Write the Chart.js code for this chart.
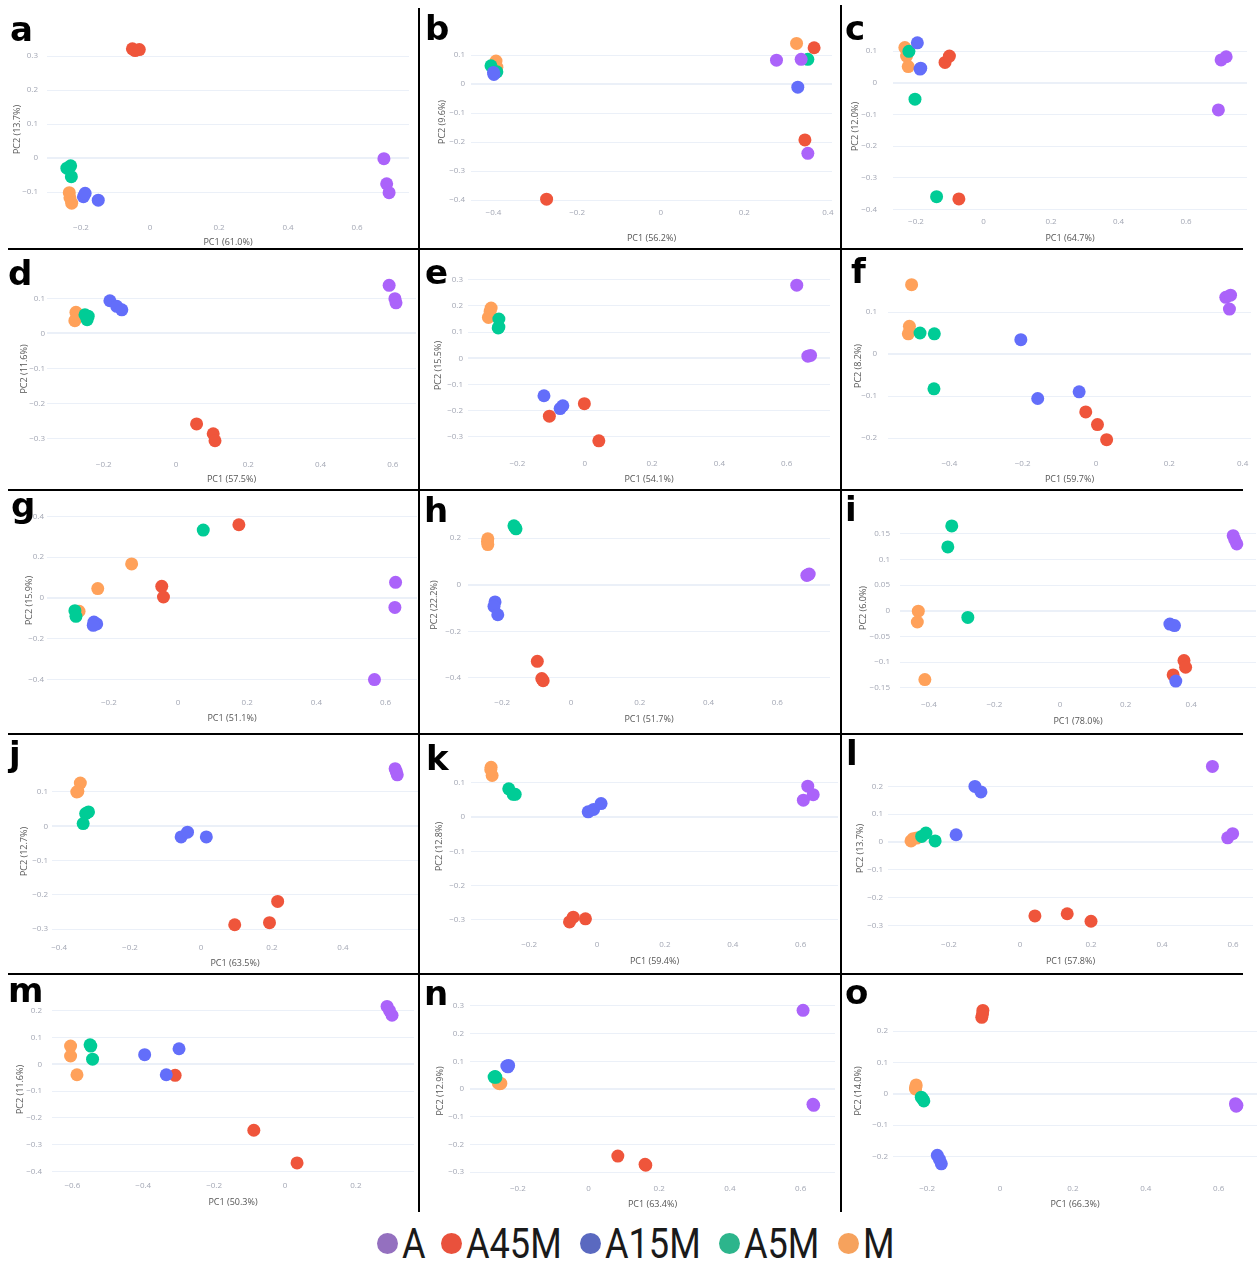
<!DOCTYPE html>
<html>
<head>
<meta charset="utf-8">
<script src="https://cdn.jsdelivr.net/npm/chart.js@4.4.1/dist/chart.umd.min.js"></script>
<style>
  body { margin: 0; background: #fff; }
  #wrap { position: relative; width: 1259px; height: 1262px; overflow: hidden; background: #fff; }
  #wrap canvas { position: absolute; }
  .letter { position: absolute; font: 700 34px "DejaVu Sans"; line-height: 34px; color: #000; z-index: 3; }
  .rule { position: absolute; background: #000; z-index: 4; }
  .ldot { position: absolute; width: 21px; height: 21px; border-radius: 50%; }
  .ltext { position: absolute; font: 400 42px Roboto; line-height: 42px; color: #1a1a1a; transform: scaleX(0.86); transform-origin: left center; white-space: nowrap; }
</style>
</head>
<body>
<div id="wrap"></div>
<script>
// --- Data ---
const groups = ['A', 'A15M', 'A45M', 'A5M', 'M'];
const panelLetters = ['a', 'b', 'c', 'd', 'e', 'f', 'g', 'h', 'i', 'j', 'k', 'l', 'm', 'n', 'o'];

const pc1Titles = ['PC1 (61.0%)', 'PC1 (56.2%)', 'PC1 (64.7%)', 'PC1 (57.5%)', 'PC1 (54.1%)', 'PC1 (59.7%)',
  'PC1 (51.1%)', 'PC1 (51.7%)', 'PC1 (78.0%)', 'PC1 (63.5%)', 'PC1 (59.4%)', 'PC1 (57.8%)',
  'PC1 (50.3%)', 'PC1 (63.4%)', 'PC1 (66.3%)'];
const pc2Titles = ['PC2 (13.7%)', 'PC2 (9.6%)', 'PC2 (12.0%)', 'PC2 (11.6%)', 'PC2 (15.5%)', 'PC2 (8.2%)',
  'PC2 (15.9%)', 'PC2 (22.2%)', 'PC2 (6.0%)', 'PC2 (12.7%)', 'PC2 (12.8%)', 'PC2 (13.7%)',
  'PC2 (11.6%)', 'PC2 (12.9%)', 'PC2 (14.0%)'];

const xTicks = [
  [-0.2, 0, 0.2, 0.4, 0.6], [-0.4, -0.2, 0, 0.2, 0.4], [-0.2, 0, 0.2, 0.4, 0.6],
  [-0.2, 0, 0.2, 0.4, 0.6], [-0.2, 0, 0.2, 0.4, 0.6], [-0.4, -0.2, 0, 0.2, 0.4],
  [-0.2, 0, 0.2, 0.4, 0.6], [-0.2, 0, 0.2, 0.4, 0.6], [-0.4, -0.2, 0, 0.2, 0.4],
  [-0.4, -0.2, 0, 0.2, 0.4], [-0.2, 0, 0.2, 0.4, 0.6], [-0.2, 0, 0.2, 0.4, 0.6],
  [-0.6, -0.4, -0.2, 0, 0.2], [-0.2, 0, 0.2, 0.4, 0.6], [-0.2, 0, 0.2, 0.4, 0.6]
];
const yTicks = [
  [-0.1, 0, 0.1, 0.2, 0.3], [-0.4, -0.3, -0.2, -0.1, 0, 0.1], [-0.4, -0.3, -0.2, -0.1, 0, 0.1],
  [-0.3, -0.2, -0.1, 0, 0.1], [-0.3, -0.2, -0.1, 0, 0.1, 0.2, 0.3], [-0.2, -0.1, 0, 0.1],
  [-0.4, -0.2, 0, 0.2, 0.4], [-0.4, -0.2, 0, 0.2], [-0.15, -0.1, -0.05, 0, 0.05, 0.1, 0.15],
  [-0.3, -0.2, -0.1, 0, 0.1], [-0.3, -0.2, -0.1, 0, 0.1], [-0.3, -0.2, -0.1, 0, 0.1, 0.2],
  [-0.4, -0.3, -0.2, -0.1, 0, 0.1, 0.2], [-0.3, -0.2, -0.1, 0, 0.1, 0.2, 0.3], [-0.2, -0.1, 0, 0.1, 0.2]
];

// [PC1, PC2] of the three replicates, one entry per panel a..o
const ptsA = [
  [[0.678, -0.002], [0.686, -0.076], [0.693, -0.102]],
  [[0.277, 0.082], [0.336, 0.085], [0.352, -0.239]],
  [[0.704, 0.072], [0.719, 0.082], [0.696, -0.086]],
  [[0.590, 0.137], [0.606, 0.099], [0.609, 0.087]],
  [[0.630, 0.279], [0.663, 0.008], [0.671, 0.011]],
  [[0.354, 0.135], [0.367, 0.140], [0.364, 0.107]],
  [[0.629, 0.077], [0.627, -0.046], [0.568, -0.400]],
  [[0.686, 0.040], [0.693, 0.046], [0.690, 0.043]],
  [[0.528, 0.146], [0.539, 0.130], [0.533, 0.138]],
  [[0.547, 0.168], [0.553, 0.150], [0.550, 0.160]],
  [[0.621, 0.090], [0.637, 0.065], [0.608, 0.049]],
  [[0.542, 0.272], [0.585, 0.015], [0.599, 0.030]],
  [[0.288, 0.216], [0.302, 0.183], [0.295, 0.200]],
  [[0.607, 0.284], [0.637, -0.059], [0.635, -0.055]],
  [[0.646, -0.032], [0.650, -0.037], [0.648, -0.040]]
];
const ptsA15M = [
  [[-0.193, -0.114], [-0.188, -0.104], [-0.150, -0.124]],
  [[-0.399, 0.033], [0.328, -0.011], [-0.400, 0.040]],
  [[-0.196, 0.126], [-0.188, 0.043], [-0.186, 0.046]],
  [[-0.183, 0.093], [-0.164, 0.077], [-0.150, 0.067]],
  [[-0.121, -0.143], [-0.073, -0.192], [-0.065, -0.181]],
  [[-0.205, 0.034], [-0.159, -0.106], [-0.046, -0.090]],
  [[-0.243, -0.118], [-0.235, -0.127], [-0.245, -0.134]],
  [[-0.221, -0.074], [-0.224, -0.093], [-0.213, -0.129]],
  [[0.335, -0.026], [0.349, -0.029], [0.353, -0.137]],
  [[-0.056, -0.031], [-0.038, -0.017], [0.015, -0.031]],
  [[-0.026, 0.015], [-0.010, 0.022], [0.012, 0.039]],
  [[-0.127, 0.200], [-0.110, 0.180], [-0.180, 0.026]],
  [[-0.396, 0.036], [-0.299, 0.058], [-0.335, -0.039]],
  [[-0.231, 0.083], [-0.226, 0.085], [-0.228, 0.080]],
  [[-0.172, -0.197], [-0.161, -0.224], [-0.166, -0.210]]
];
const ptsA45M = [
  [[-0.051, 0.321], [-0.043, 0.316], [-0.031, 0.319]],
  [[-0.273, -0.397], [0.345, -0.193], [0.367, 0.125]],
  [[-0.114, 0.064], [-0.101, 0.084], [-0.073, -0.367]],
  [[0.057, -0.259], [0.103, -0.287], [0.108, -0.307]],
  [[-0.105, -0.221], [-0.001, -0.173], [0.042, -0.315]],
  [[-0.028, -0.138], [0.004, -0.168], [0.029, -0.204]],
  [[-0.047, 0.057], [-0.042, 0.005], [0.176, 0.359]],
  [[-0.098, -0.329], [-0.085, -0.403], [-0.081, -0.412]],
  [[0.378, -0.097], [0.383, -0.110], [0.345, -0.125]],
  [[0.095, -0.287], [0.193, -0.281], [0.216, -0.219]],
  [[-0.081, -0.306], [-0.070, -0.292], [-0.034, -0.297]],
  [[0.042, -0.266], [0.133, -0.258], [0.200, -0.285]],
  [[-0.310, -0.041], [-0.088, -0.246], [0.034, -0.368]],
  [[0.083, -0.242], [0.162, -0.275], [0.160, -0.272]],
  [[-0.047, 0.266], [-0.050, 0.244], [-0.048, 0.255]]
];
const ptsA5M = [
  [[-0.241, -0.030], [-0.230, -0.023], [-0.228, -0.055]],
  [[-0.406, 0.063], [-0.392, 0.042], [0.352, 0.085]],
  [[-0.221, 0.099], [-0.203, -0.052], [-0.139, -0.360]],
  [[-0.252, 0.053], [-0.243, 0.049], [-0.246, 0.039]],
  [[-0.255, 0.150], [-0.257, 0.116], [-0.255, 0.119]],
  [[-0.480, 0.050], [-0.441, 0.048], [-0.442, -0.083]],
  [[-0.298, -0.062], [-0.295, -0.090], [0.073, 0.333]],
  [[-0.166, 0.253], [-0.160, 0.240], [-0.163, 0.246]],
  [[-0.330, 0.165], [-0.342, 0.124], [-0.281, -0.013]],
  [[-0.325, 0.037], [-0.317, 0.042], [-0.332, 0.008]],
  [[-0.260, 0.082], [-0.247, 0.066], [-0.241, 0.066]],
  [[-0.277, 0.020], [-0.265, 0.032], [-0.239, 0.004]],
  [[-0.550, 0.073], [-0.548, 0.068], [-0.543, 0.019]],
  [[-0.267, 0.043], [-0.262, 0.042], [-0.264, 0.045]],
  [[-0.216, -0.011], [-0.209, -0.023], [-0.212, -0.017]]
];
const ptsM = [
  [[-0.234, -0.102], [-0.232, -0.117], [-0.227, -0.133]],
  [[-0.394, 0.079], [-0.392, 0.058], [0.325, 0.140]],
  [[-0.233, 0.111], [-0.228, 0.084], [-0.223, 0.051]],
  [[-0.277, 0.060], [-0.280, 0.036], [-0.272, 0.055]],
  [[-0.286, 0.156], [-0.281, 0.179], [-0.278, 0.192]],
  [[-0.503, 0.165], [-0.509, 0.066], [-0.512, 0.048]],
  [[-0.286, -0.065], [-0.232, 0.046], [-0.134, 0.167]],
  [[-0.242, 0.197], [-0.242, 0.172], [-0.243, 0.185]],
  [[-0.432, -0.001], [-0.435, -0.022], [-0.412, -0.134]],
  [[-0.340, 0.126], [-0.347, 0.102], [-0.350, 0.100]],
  [[-0.312, 0.145], [-0.309, 0.121], [-0.313, 0.138]],
  [[-0.307, 0.004], [-0.301, 0.012], [-0.291, 0.014]],
  [[-0.605, 0.068], [-0.605, 0.031], [-0.587, -0.039]],
  [[-0.251, 0.019], [-0.255, 0.021], [-0.248, 0.020]],
  [[-0.231, 0.021], [-0.230, 0.028], [-0.232, 0.015]]
];
const seriesByGroup = [ptsA, ptsA15M, ptsA45M, ptsA5M, ptsM];

const legendNames = ['A', 'A45M', 'A15M', 'A5M', 'M'];

// --- Styles & layout ---
const groupColors = ['#AB63FA', '#636EFA', '#EF553B', '#00CC96', '#FFA15A'];
const legendColors = ['#9470bf', '#e9513c', '#5a69c0', '#2db58c', '#f6a25d'];
const legendDotX = [387, 451, 590, 729, 848];
const legendTextX = [402, 466, 605, 744, 863];

// plot box and axis mapping per panel:
// [left, right, top, bottom, px at PC1=0, px per PC1 unit, px at PC2=0, px per PC2 unit, tick gap, y-title x, x-title y]
const frames = [
  [47, 409, 38, 221, 150, 345, 158, 340, 9, 17, 242],
  [471, 832, 38, 206, 660.7, 418, 84, 290, 6, 442, 238],
  [893, 1247, 38, 215, 983.5, 337.5, 82.7, 316.7, 16, 855, 238],
  [47, 416, 280, 458, 176, 361.25, 333.3, 350, 2, 24, 479],
  [468, 830, 274, 457, 584.7, 336.6, 358.3, 262, 5, 438, 479],
  [888, 1251, 275, 457, 1096, 366.6, 354, 420, 11, 858, 479],
  [47, 417, 505, 696, 178, 345.9, 598, 204, 3, 29, 718],
  [468, 830, 514, 696, 571, 343.75, 584.7, 233, 7, 434, 719],
  [900, 1256, 518, 698, 1060, 328, 610.7, 514, 10, 863, 721],
  [52, 418, 762, 941, 201, 354.9, 826.3, 343, 4, 24, 963],
  [471, 838, 755, 938, 597, 339.4, 817, 343, 6, 439, 961],
  [888, 1253, 759, 938, 1020, 355, 842, 278, 5, 860, 961],
  [52, 414, 1000, 1179, 285, 354.4, 1064.3, 268, 10, 20, 1202],
  [470, 835, 1000, 1182, 588.5, 353.5, 1089, 277, 6, 440, 1204],
  [893, 1257, 1000, 1182, 1000, 364.5, 1093.7, 313, 5, 858, 1204]
];
const colX = [[0, 418], [420, 840], [842, 1259]];
const rowY = [[0, 248], [250, 489], [491, 733], [735, 973], [975, 1212]];
const letterSpots = [[12, 40.5], [427, 40], [847, 40], [10, 284.5], [427, 284], [853, 283], [13, 517], [426, 522],
  [847, 521], [11, 766], [428, 770], [848, 765], [10, 1002], [426, 1005], [847, 1004]];
const rules = [[418, 8, 2, 1204], [840, 5, 2, 1207], [8, 248, 1235, 2], [8, 489, 1235, 2], [8, 733, 1235, 2], [8, 973, 1235, 2]];

const tickFont = { family: 'Open Sans', size: 8 };
const titleFont = { family: 'Open Sans', size: 9 };
const LH = 9 * 1.2;
const fmt = v => v === 0 ? '0' : (v < 0 ? '\u2212' : '') + String(+Math.abs(v).toFixed(2));

const wrap = document.getElementById('wrap');

frames.forEach((f, i) => {
  const [L, R, T, B, x0, xu, y0, yu, gap, ytx, xty] = f;
  const [cl, cr] = colX[i % 3];
  const [ct, cb] = rowY[Math.floor(i / 3)];
  const canvas = document.createElement('canvas');
  canvas.width = cr - cl;
  canvas.height = cb - ct;
  canvas.style.left = cl + 'px';
  canvas.style.top = ct + 'px';
  canvas.style.width = (cr - cl) + 'px';
  canvas.style.height = (cb - ct) + 'px';
  wrap.appendChild(canvas);

  new Chart(canvas, {
    type: 'scatter',
    data: {
      datasets: groups.map((g, k) => ({
        label: g,
        data: seriesByGroup[k][i].map(([x, y]) => ({ x, y })),
        backgroundColor: groupColors[k],
        pointRadius: 6.5,
        pointHoverRadius: 6.5,
        pointBorderWidth: 0,
        clip: false
      }))
    },
    options: {
      responsive: false,
      animation: false,
      devicePixelRatio: 1,
      layout: { autoPadding: false, padding: { left: 0, bottom: 0, top: T - ct, right: cr - R } },
      plugins: { legend: { display: false }, tooltip: { enabled: false } },
      scales: {
        x: {
          type: 'linear',
          min: (L - x0) / xu,
          max: (R - x0) / xu,
          afterBuildTicks: ax => { ax.ticks = xTicks[i].map(v => ({ value: v })); },
          afterFit: ax => { ax.height = cb - B; },
          grid: { display: false, drawTicks: false },
          border: { display: false },
          ticks: { font: tickFont, color: '#a3a7b4', padding: 2, maxRotation: 0, autoSkip: false, callback: fmt },
          title: { display: true, text: pc1Titles[i], color: '#555', font: titleFont, padding: { top: 0, bottom: cb - xty - LH / 2 } }
        },
        y: {
          type: 'linear',
          min: (y0 - B) / yu,
          max: (y0 - T) / yu,
          afterBuildTicks: ax => { ax.ticks = yTicks[i].map(v => ({ value: v })); },
          afterFit: ax => { ax.width = L - cl; },
          grid: { color: '#EBF0F8', lineWidth: c => (c.tick && c.tick.value === 0) ? 2 : 1, drawTicks: false },
          border: { display: false },
          ticks: { font: tickFont, color: '#a3a7b4', padding: gap, autoSkip: false, callback: fmt },
          title: { display: true, text: pc2Titles[i], color: '#555', font: titleFont, padding: { top: ytx - cl - LH / 2, bottom: 0 } }
        }
      }
    }
  });
});

// panel letters
panelLetters.forEach((ch, i) => {
  const d = document.createElement('div');
  d.className = 'letter';
  d.textContent = ch;
  d.style.left = (letterSpots[i][0] - 2) + 'px';
  d.style.top = (letterSpots[i][1] - 28.8) + 'px';
  wrap.appendChild(d);
});

// separator rules
rules.forEach(([x, y, w, h]) => {
  const d = document.createElement('div');
  d.className = 'rule';
  d.style.cssText = `left:${x}px;top:${y}px;width:${w}px;height:${h}px`;
  wrap.appendChild(d);
});

// legend
legendNames.forEach((name, k) => {
  const dot = document.createElement('div');
  dot.className = 'ldot';
  dot.style.left = (legendDotX[k] - 10.5) + 'px';
  dot.style.top = '1233px';
  dot.style.background = legendColors[k];
  wrap.appendChild(dot);
  const t = document.createElement('div');
  t.className = 'ltext';
  t.textContent = name;
  t.style.left = legendTextX[k] + 'px';
  t.style.top = '1222.6px';
  wrap.appendChild(t);
});
</script>
</body>
</html>
